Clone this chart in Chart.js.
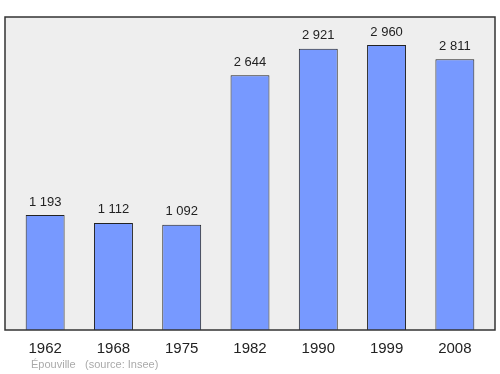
<!DOCTYPE html>
<html>
<head>
<meta charset="utf-8">
<script src="https://cdn.jsdelivr.net/npm/chart.js@4"></script>
<style>
  body { margin: 0; background: #fff; }
  #wrap { width: 500px; height: 374px; }
</style>
</head>
<body>
<div id="wrap"><canvas id="chart1" width="500" height="374"></canvas></div>
<script>
var years = ['1962', '1968', '1975', '1982', '1990', '1999', '2008'];
var population = [1193, 1112, 1092, 2644, 2921, 2960, 2811];
var valueLabels = ['1 193', '1 112', '1 092', '2 644', '2 921', '2 960', '2 811'];
var place = 'Épouville';
var source = '(source: Insee)';
var font = '"Liberation Sans", Arial, sans-serif';

// grey box behind the bars, a bit wider than the chart area
var boxPlugin = {
    id: 'box',
    beforeDatasetsDraw: function(chart) {
        var ctx = chart.ctx, a = chart.chartArea;
        ctx.save();
        ctx.fillStyle = '#eeeeee';
        ctx.fillRect(5, a.top, 490, a.bottom - a.top);
        ctx.restore();
    },
    afterDatasetsDraw: function(chart) {
        var ctx = chart.ctx, a = chart.chartArea;
        ctx.save();
        ctx.strokeStyle = '#333';
        ctx.lineWidth = 1.5;
        ctx.strokeRect(5, a.top, 490, a.bottom - a.top);
        // value labels
        ctx.fillStyle = '#222';
        ctx.font = '13px ' + font;
        ctx.textAlign = 'center';
        ctx.textBaseline = 'middle';
        chart.getDatasetMeta(0).data.forEach(function(bar, i) {
            ctx.fillText(valueLabels[i], bar.x, bar.y - 13);
        });
        // footer
        ctx.fillStyle = '#aaa';
        ctx.font = '11px ' + font;
        ctx.textAlign = 'left';
        ctx.fillText(place, 31, 365);
        ctx.fillText(source, 85, 365);
        ctx.restore();
    }
};

new Chart('chart1', {
    type: 'bar',
    data: {
        labels: years,
        datasets: [{
            data: population,
            backgroundColor: '#7799ff',
            borderColor: '#222',
            borderWidth: 1,
            barPercentage: 0.57,
            categoryPercentage: 1
        }]
    },
    options: {
        responsive: false,
        animation: false,
        layout: { padding: { left: 11, right: 11, top: 17, bottom: 0 } },
        plugins: {
            legend: { display: false },
            tooltip: { enabled: false }
        },
        scales: {
            x: {
                grid: { display: false },
                border: { display: false },
                ticks: {
                    color: '#222',
                    padding: 2,
                    font: { size: 15, family: font }
                },
                afterFit: function(scale) { scale.height = 44; }
            },
            y: {
                display: false,
                min: 0,
                max: 3250
            }
        }
    },
    plugins: [boxPlugin]
});
</script>
</body>
</html>
